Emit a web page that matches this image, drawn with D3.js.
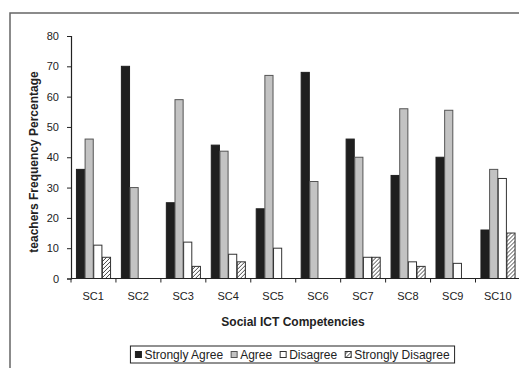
<!DOCTYPE html>
<html>
<head>
<meta charset="utf-8">
<script src="https://cdn.jsdelivr.net/npm/d3@7"></script>
<style>
    body { margin: 0; background: #fff; }
    text { font-family: "Liberation Sans", Arial, sans-serif; fill: #222; }
</style>
</head>
<body>
<script>

// Data
let categories      = ["SC1", "SC2", "SC3", "SC4", "SC5", "SC6", "SC7", "SC8", "SC9", "SC10"]
let seriesNames     = ["Strongly Agree", "Agree", "Disagree", "Strongly Disagree"]
let stronglyAgree   = [36, 70, 25, 44, 23, 68, 46, 34, 40, 16]
let agree           = [46, 30, 59, 42, 67, 32, 40, 56, 55.5, 36]
let disagree        = [11, 0, 12, 8, 10, 0, 7, 5.5, 5, 33]
let stronglyDisagree= [7, 0, 4, 5.5, 0, 0, 7, 4, 0, 15]
let yTicks          = [0, 10, 20, 30, 40, 50, 60, 70, 80]

let seriesValues = [stronglyAgree, agree, disagree, stronglyDisagree]

let width = 519
let height = 368

let svg = d3.select("body")
    .append("svg")
    .attr("width", width)
    .attr("height", height)

// hatch pattern for the last series
let defs = svg.append("defs")
let pat = defs.append("pattern")
    .attr("id", "hatch")
    .attr("patternUnits", "userSpaceOnUse")
    .attr("width", 4)
    .attr("height", 4)
pat.append("rect").attr("width", 4).attr("height", 4).style("fill", "#fff")
pat.append("path")
    .attr("d", "M-1,1 l2,-2 M0,4 l4,-4 M3,5 l2,-2")
    .style("stroke", "#333")
    .style("stroke-width", 0.9)

let fills   = ["#1f1f1f", "#c3c3c3", "#ffffff", "url(#hatch)"]
let strokes = ["#1f1f1f", "#555555", "#333333", "#333333"]

// outer frame of the figure
svg.append("rect")
    .attr("x", 10)
    .attr("y", 13)
    .attr("width", 540)
    .attr("height", 380)
    .style("fill", "none")
    .style("stroke", "#666")
    .style("stroke-width", 1.5)

let plot = { left: 71, right: 520, top: 36, bottom: 278.5 }

let xScale = d3.scaleBand()
    .domain(categories)
    .range([plot.left, plot.right])
    .paddingInner(0.23)
    .paddingOuter(0.11)

let xSub = d3.scaleBand()
    .domain(d3.range(seriesNames.length))
    .range([0, xScale.bandwidth()])

let yScale = d3.scaleLinear()
    .domain([0, 80])
    .range([plot.bottom, plot.top])

// bars
let groups = svg.append("g")
    .selectAll("g")
    .data(categories)
    .join("g")
    .attr("transform", d => "translate(" + xScale(d) + ",0)")

groups.selectAll("rect")
    .data((d, i) => seriesValues.map((s, k) => ({ k: k, v: s[i] })).filter(e => e.v > 0))
    .join("rect")
    .attr("x", e => xSub(e.k) + 0.5)
    .attr("y", e => yScale(e.v))
    .attr("width", xSub.bandwidth() - 0.5)
    .attr("height", e => yScale(0) - yScale(e.v))
    .style("fill", e => fills[e.k])
    .style("stroke", e => strokes[e.k])
    .style("stroke-width", 1)

// y axis
let yAxis = svg.append("g")
    .attr("transform", "translate(" + plot.left + ",0)")
    .call(d3.axisLeft(yScale).tickValues(yTicks).tickSize(4).tickPadding(8))
yAxis.select(".domain").style("stroke", "#222").style("stroke-width", 1.2)
yAxis.selectAll(".tick line").style("stroke", "#222")
yAxis.selectAll("text").style("font-size", "11px").style("fill", "#222")

// x axis: ticks sit on the category boundaries
let xAxis = svg.append("g")
    .attr("transform", "translate(0," + plot.bottom + ")")
xAxis.append("line")
    .attr("x1", plot.left).attr("x2", plot.right)
    .style("stroke", "#222").style("stroke-width", 1.2)
xAxis.selectAll(".bound")
    .data(categories)
    .join("line")
    .attr("class", "bound")
    .attr("x1", d => xScale(d) - xScale.step() * xScale.paddingOuter())
    .attr("x2", d => xScale(d) - xScale.step() * xScale.paddingOuter())
    .attr("y1", 0).attr("y2", 4)
    .style("stroke", "#222")
xAxis.selectAll(".lab")
    .data(categories)
    .join("text")
    .attr("class", "lab")
    .attr("x", d => xScale(d) + xScale.bandwidth() / 2)
    .attr("y", 21)
    .attr("text-anchor", "middle")
    .style("font-size", "11px")
    .text(d => d)

// axis titles
svg.append("text")
    .attr("transform", "translate(38,162) rotate(-90)")
    .attr("text-anchor", "middle")
    .style("font-size", "12px")
    .style("font-weight", "bold")
    .text("teachers Frequency Percentage")

svg.append("text")
    .attr("x", 293)
    .attr("y", 326)
    .attr("text-anchor", "middle")
    .style("font-size", "12px")
    .style("font-weight", "bold")
    .text("Social ICT Competencies")

// legend
let legend = svg.append("g")
let box = legend.append("rect")
    .attr("y", 346)
    .attr("height", 17)
    .style("fill", "#fff")
    .style("stroke", "#222")
    .style("stroke-width", 1)

let lx = 0
let gap = 8
let items = legend.selectAll(".item")
    .data(seriesNames)
    .join("g")
    .attr("class", "item")
items.append("rect")
    .attr("y", 351.5)
    .attr("width", 6)
    .attr("height", 6)
    .style("fill", (d, k) => fills[k])
    .style("stroke", (d, k) => strokes[k])
items.append("text")
    .attr("y", 359)
    .style("font-size", "12px")
    .text(d => d)
items.each(function() {
    let it = d3.select(this)
    it.select("rect").attr("x", lx)
    it.select("text").attr("x", lx + 9)
    lx += 9 + it.select("text").node().getComputedTextLength() + gap
})
let total = lx - gap
let x0 = 292.5 - total / 2
items.attr("transform", "translate(" + x0 + ",0)")
box.attr("x", x0 - 5).attr("width", total + 10)

</script>
</body>
</html>
